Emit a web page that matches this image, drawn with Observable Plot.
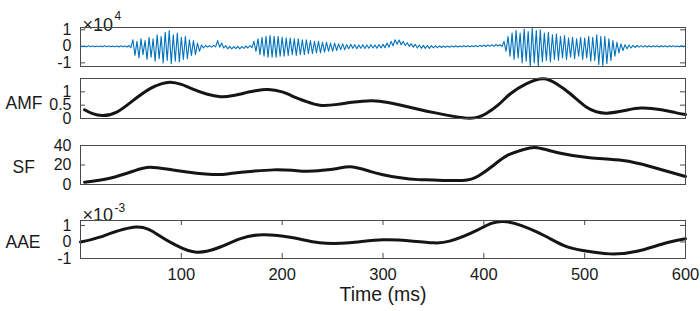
<!DOCTYPE html>
<html><head><meta charset="utf-8">
<script src="https://cdn.jsdelivr.net/npm/d3@7"></script>
<script src="https://cdn.jsdelivr.net/npm/@observablehq/plot@0.6"></script>
<style>
html,body{margin:0;padding:0;background:#fff;}
#chart{position:relative;width:700px;height:311px;overflow:hidden;font-family:"Liberation Sans",Arial,sans-serif;}
#chart svg{position:absolute;left:0;}
</style></head><body><div id="chart"></div>
<script>
// ---- data ----
const xDomain = [0, 600];
const xTicks = [100, 200, 300, 400, 500, 600];
const xLabel = "Time (ms)";

// waveform envelope (x10^4), sampled every 4 ms from 0 to 600
const waveStep = 4;
const waveHi = [
 0.02,0.02,0.03,0.02,0.02,0.02,0.03,0.02,0.02,0.02,
 0.03,0.02,0.05,0.4,0.3,0.45,0.35,0.55,0.45,0.7,
 0.6,0.85,0.95,0.7,0.8,0.55,0.6,0.4,0.35,0.2,
 0.08,0.05,0.04,0.06,0.35,0.2,0.05,0.0,-0.02,0.0,
 -0.02,0.02,0.05,0.3,0.45,0.55,0.6,0.65,0.6,0.6,
 0.55,0.5,0.5,0.45,0.45,0.4,0.4,0.35,0.3,0.3,
 0.25,0.25,0.2,0.2,0.15,0.15,0.1,0.12,0.1,0.08,
 0.1,0.08,0.1,0.08,0.1,0.12,0.2,0.3,0.4,0.38,
 0.3,0.22,0.15,0.12,0.08,0.06,0.05,0.04,0.03,0.03,
 0.02,0.02,0.02,0.03,0.02,0.03,0.04,0.04,0.05,0.06,
 0.07,0.08,0.1,0.12,0.1,0.3,0.6,0.8,0.95,0.8,
 1.05,0.9,1.1,0.95,1.0,0.8,0.85,0.7,0.75,0.6,
 0.65,0.5,0.55,0.45,0.55,0.5,0.6,0.55,0.7,0.6,
 0.6,0.45,0.35,0.25,0.15,0.1,0.08,0.06,0.05,0.04,
 0.04,0.03,0.03,0.03,0.04,0.03,0.03,0.03,0.02,0.03,
 0.02];
const waveLo = [
 -0.02,-0.03,-0.02,-0.03,-0.02,-0.03,-0.02,-0.03,-0.03,-0.04,
 -0.03,-0.04,-0.08,-0.55,-0.7,-0.5,-0.8,-0.65,-0.9,-0.75,
 -1.0,-0.85,-1.05,-0.9,-0.95,-0.8,-0.75,-0.55,-0.5,-0.3,
 -0.1,-0.04,-0.05,-0.03,-0.05,-0.1,-0.15,-0.15,-0.14,-0.15,
 -0.12,-0.1,-0.08,-0.3,-0.5,-0.6,-0.65,-0.65,-0.65,-0.6,
 -0.6,-0.55,-0.5,-0.55,-0.5,-0.5,-0.45,-0.45,-0.4,-0.4,
 -0.35,-0.3,-0.3,-0.25,-0.2,-0.2,-0.15,-0.12,-0.14,-0.12,
 -0.13,-0.12,-0.1,-0.12,-0.1,-0.08,-0.05,0.03,0.12,0.1,
 0.05,0.0,-0.05,-0.1,-0.12,-0.12,-0.12,-0.1,-0.08,-0.07,
 -0.06,-0.05,-0.04,-0.04,-0.03,-0.03,-0.03,-0.02,-0.02,-0.01,
 -0.01,0.0,0.0,0.02,-0.02,-0.3,-0.6,-0.8,-0.7,-1.0,
 -0.9,-1.2,-1.0,-1.2,-0.95,-0.85,-0.95,-0.8,-0.85,-0.7,
 -0.8,-0.65,-0.75,-0.6,-0.8,-0.7,-0.9,-0.85,-1.1,-1.15,
 -1.05,-0.85,-0.6,-0.4,-0.25,-0.15,-0.1,-0.07,-0.05,-0.05,
 -0.04,-0.04,-0.03,-0.04,-0.03,-0.04,-0.03,-0.03,-0.03,-0.03,
 -0.03];
const waveTicks = [-1, 0, 1];
const waveExp = "4";

const amfT = [4,12,22,36,52,69,80,89,100,109,125,139,150,162,175,186,200,209,225,239,255,269,289,305,319,335,352,370,386,395,402,414,426,442,459,472,486,502,512,522,540,556,576,590,600];
const amfV = [0.33,0.18,0.11,0.24,0.67,1.12,1.3,1.36,1.28,1.14,0.92,0.82,0.85,0.95,1.05,1.09,1.0,0.86,0.62,0.49,0.53,0.61,0.67,0.6,0.49,0.35,0.21,0.08,0.01,0.06,0.18,0.5,0.92,1.3,1.49,1.3,0.92,0.42,0.25,0.2,0.3,0.39,0.33,0.22,0.15];
const amfTicks = [0, 0.5, 1];

const sfT = [4,29,52,69,95,131,150,171,191,210,224,240,255,270,287,300,317,335,350,379,395,410,423,440,453,476,505,538,565,600];
const sfV = [2.4,6.5,13.6,17.7,14.4,10.3,11.5,13.6,15,14.5,13.6,14.5,16.5,18,13.5,10,6.9,5,4.6,4.1,9,20,29.7,36,37.6,32,27.4,24.6,18.5,8.2];
const sfTicks = [0, 20, 40];

const aaeT = [0,19,55,78,95,115,138,158,181,211,237,267,300,330,350,366,393,419,453,479,498,525,552,578,600];
const aaeV = [0,0.29,0.9,0.39,-0.21,-0.62,-0.32,0.19,0.44,0.25,-0.05,-0.05,0.13,0.05,-0.05,0.05,0.7,1.24,0.59,-0.21,-0.52,-0.72,-0.56,-0.11,0.19];
const aaeTicks = [-1, 0, 1];
const aaeExp = "-3";

const labels = ["AMF", "SF", "AAE"];

// ---- drawing ----
const chart = document.getElementById("chart");
const FONT = '"Liberation Sans", Arial, Helvetica, sans-serif';
const frameColor = "#4a4a4a";
const fmt = d => String(d);

function panel({top, height, mt, mb, yDomain, yTicks, marks, xAxis}) {
  const fw = 700 - 80 - 15;
  const fh = height - mt - mb;
  const extra = [];
  if (xAxis) {
    extra.push(
      Plot.axisX(xTicks, {anchor: "bottom", tickSize: 0, tickPadding: 10, tickFormat: fmt, label: null, fontSize: 16.5}),
      Plot.tickX(xTicks, {x: d => d, insetBottom: fh - 5, stroke: frameColor}),
      Plot.tickX(xTicks, {x: d => d, insetTop: fh - 5, stroke: frameColor}),
      Plot.text([xLabel], {frameAnchor: "bottom", dy: 42, text: d => d, fontSize: 19.5, fill: "#1a1a1a"})
    );
  }
  const svg = Plot.plot({
    width: 700, height, marginLeft: 80, marginRight: 15, marginTop: mt, marginBottom: mb,
    x: {domain: xDomain, axis: null, label: null},
    y: {domain: yDomain, label: null},
    style: {fontFamily: FONT, fontSize: "16px", color: "#1a1a1a", background: "transparent", overflow: "visible"},
    marks: [
      Plot.axisY(yTicks, {anchor: "left", tickSize: 0, tickPadding: 9, tickFormat: fmt, label: null}),
      Plot.tickY(yTicks, {y: d => d, insetRight: fw - 5, stroke: frameColor}),
      Plot.tickY(yTicks, {y: d => d, insetLeft: fw - 5, stroke: frameColor}),
      ...extra,
      ...marks,
      Plot.frame({stroke: frameColor, strokeWidth: 1})
    ]
  });
  svg.style.top = top + "px";
  chart.append(svg);
}

function expLabel(exp, dy1, dy2) {
  return [
    Plot.text(["×10"], {frameAnchor: "top-left", dx: 2, dy: dy1, text: d => d, textAnchor: "start", fontSize: 18, fill: "#1a1a1a"}),
    Plot.text([exp], {frameAnchor: "top-left", dx: 34, dy: dy2, text: d => d, textAnchor: "start", fontSize: 12, fill: "#1a1a1a"})
  ];
}

function yLabel(txt, dx, dy) {
  return Plot.text([txt], {frameAnchor: "left", dx, dy, text: d => d, textAnchor: "start", fontSize: 17.5, fill: "#1a1a1a"});
}

// waveform zig-zag table
const wave = [];
waveHi.forEach((h, i) => {
  const t = i * waveStep;
  wave.push({t, v: waveHi[i]});
  if (t + waveStep / 2 <= 600) wave.push({t: t + waveStep / 2, v: waveLo[i]});
});
const toRows = (T, V) => T.map((t, i) => ({t, v: V[i]}));
const lineStyle = {x: "t", y: "v", stroke: "#151515", strokeWidth: 3, curve: "natural"};

panel({top: 0, height: 72, mt: 27, mb: 6, yDomain: [-1.22, 1.14], yTicks: waveTicks,
  marks: [
    Plot.line(wave, {x: "t", y: "v", stroke: "#0072BD", strokeWidth: 1.1}),
    ...expLabel(waveExp, -9, -16)
  ]});

panel({top: 72, height: 50, mt: 6, mb: 4, yDomain: [0, 1.5], yTicks: amfTicks,
  marks: [
    Plot.line(toRows(amfT, amfV), lineStyle),
    yLabel(labels[0], -75, 5)
  ]});

panel({top: 125, height: 63, mt: 20, mb: 4, yDomain: [0, 40], yTicks: sfTicks,
  marks: [
    Plot.line(toRows(sfT, sfV), lineStyle),
    yLabel(labels[1], -68, 2)
  ]});

panel({top: 195, height: 116, mt: 25, mb: 53, yDomain: [-1, 1.3], yTicks: aaeTicks, xAxis: true,
  marks: [
    Plot.line(toRows(aaeT, aaeV), lineStyle),
    yLabel(labels[2], -75, 3),
    ...expLabel(aaeExp, -12, -17)
  ]});
</script></body></html>
